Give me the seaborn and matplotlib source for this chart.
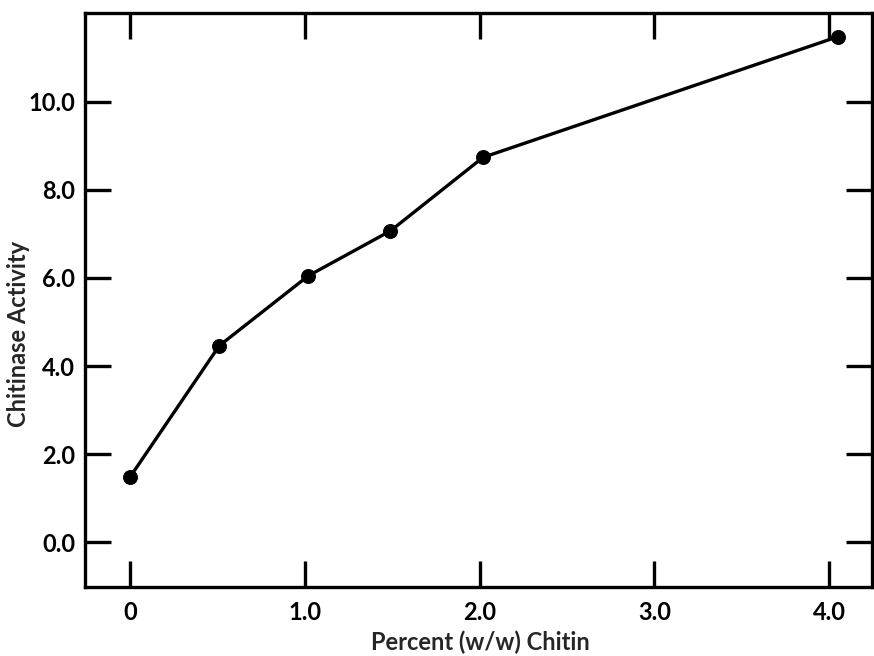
import matplotlib
matplotlib.use("Agg")
import matplotlib.pyplot as plt
import seaborn as sns
import pandas as pd

percent_chitin = [0.0, 0.51, 1.02, 1.49, 2.02, 4.05]
chitinase_activity = [1.48, 4.46, 6.05, 7.07, 8.74, 11.48]
x_ticks = [0, 1.0, 2.0, 3.0, 4.0]
x_tick_labels = ["0", "1.0", "2.0", "3.0", "4.0"]
y_ticks = [0, 2, 4, 6, 8, 10]
y_tick_labels = ["0.0", "2.0", "4.0", "6.0", "8.0", "10.0"]

sns.set_style("ticks")
plt.rcParams['font.family'] = ['Lato', 'DejaVu Sans']

df = pd.DataFrame({"x": percent_chitin, "y": chitinase_activity})

fig = plt.figure(figsize=(8.74, 6.56), dpi=100)
ax = fig.add_axes([0.0973, 0.1052, 0.9004, 0.875])

sns.lineplot(data=df, x="x", y="y", ax=ax, color="black", linewidth=2.4,
             marker="o", markersize=10, markeredgecolor="black",
             markerfacecolor="black", sort=False)

ax.set_xlim(-0.258, 4.246)
ax.set_ylim(-1.02, 12.02)
ax.set_xticks(x_ticks)
ax.set_xticklabels(x_tick_labels)
ax.set_yticks(y_ticks)
ax.set_yticklabels(y_tick_labels)

for s in ax.spines.values():
    s.set_visible(True)
    s.set_linewidth(2.4)
    s.set_color("black")

ax.tick_params(axis="both", which="major", direction="in", length=19, width=2.4,
               top=True, right=True, labelsize=17, color="black", labelcolor="black")
ax.tick_params(axis="x", pad=10)
ax.tick_params(axis="y", pad=7)
for lab in ax.get_xticklabels() + ax.get_yticklabels():
    lab.set_fontweight("bold")

ax.set_xlabel("Percent (w/w) Chitin", fontsize=17, fontweight="bold")
ax.xaxis.set_label_coords(0.502, -0.076)
ax.set_ylabel("Chitinase Activity", fontsize=17, fontweight="bold")
ax.yaxis.set_label_coords(-0.070, 0.44)

fig.savefig("out.png", dpi=100)
